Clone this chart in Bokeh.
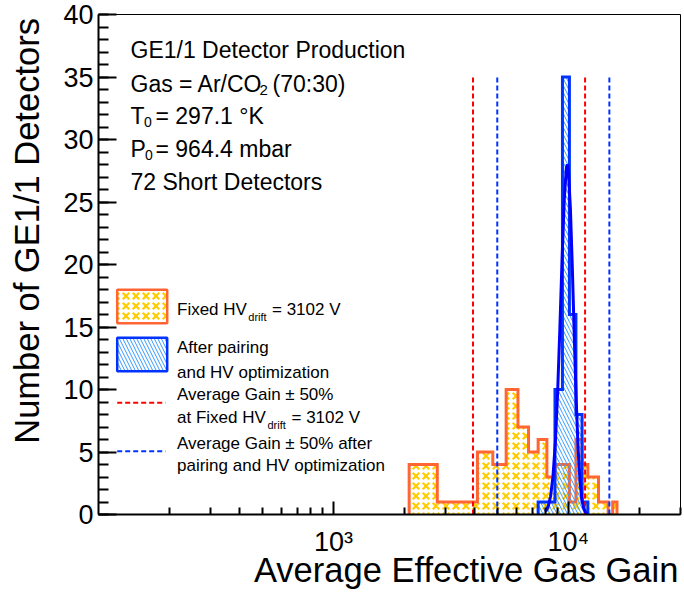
import numpy as np
from bokeh.plotting import figure
from bokeh.models import FixedTicker, Label, Range1d, CustomJSTickFormatter
from bokeh.embed import file_html
from bokeh.resources import INLINE

# ---------------- data ----------------
bin_low, bin_high, n_bins = 100, 20100, 30
fixed_counts = [0, 0, 0, 4, 1, 1, 5, 4, 10, 7, 5, 6,
                3, 4, 4, 1, 6, 4, 3, 3, 1, 1, 0, 1,
                0, 0, 0, 0, 0, 0]
opt_counts = [0, 0, 0, 0, 0, 0, 0, 0, 0, 0, 0, 1,
              1, 10, 35, 16, 8, 1, 0, 0, 0, 0, 0, 0,
              0, 0, 0, 0, 0, 0]
fit_gain = [8000, 8200, 8400, 8600, 8800, 9000, 9200, 9400, 9600, 9800, 9900,
            10000, 10200, 10400, 10600, 10800, 11000, 11200, 11400, 11600, 11800, 12000]
fit_count = [0.24, 0.62, 1.46, 3.07, 5.79, 9.82, 14.96, 20.47, 25.14, 27.74, 28.0,
             27.49, 24.46, 19.55, 14.03, 9.05, 5.24, 2.72, 1.27, 0.53, 0.20, 0.07]
avg_gain_fixed = 7850
avg_gain_opt = 9960
band_fraction = 0.5
band_top = 35

y_ticks = [0, 5, 10, 15, 20, 25, 30, 35, 40]
y_minor = list(range(0, 41))
x_ticks = [1000, 10000]
x_tick_labels = ["10\u00b3", "10\u2074"]
x_minor = [200, 300, 400, 500, 600, 700, 800, 900,
           2000, 3000, 4000, 5000, 6000, 7000, 8000, 9000, 20000, 30000]

x_title = "Average Effective Gas Gain"
y_title = "Number of GE1/1 Detectors"
text_lines = ["GE1/1 Detector Production", "Gas = Ar/CO", "T", "P", "72 Short Detectors"]

# ---------------- styles ----------------
FONT = "Liberation Sans"
ORANGE = "#ff6633"
STAR = "#ffcc00"
BLUE_LINE = "#0033ff"
BLUE_HATCH = "#3399ff"
RED = "#ff0000"
CURVE = "#0000ff"
NBSP = "\u00a0"
X_TITLE_PAD = 16     # non-breaking spaces that push the centred title to the right end
Y_TITLE_PAD = 7      # ... and the vertical title towards the top

W, H = 684, 592
FL, FR, FT, FB = 98, 680, 14, 514          # frame edges in page pixels
LX0, LX1 = 2.0, float(np.log10(30000))


def gx(px):
    return 10 ** (LX0 + (px - FL) / (FR - FL) * (LX1 - LX0))


def gy(py):
    return 40.0 * (FB - py) / (FB - FT)


p = figure(width=W, height=H, x_axis_type="log",
           x_range=Range1d(100, 30000), y_range=Range1d(0, 40),
           output_backend="svg", toolbar_location=None,
           min_border_left=FL, min_border_right=W - FR,
           min_border_top=FT, min_border_bottom=H - FB)
p.grid.visible = False
p.outline_line_color = "black"
p.outline_line_width = 1
p.background_fill_color = "white"
p.border_fill_color = "white"

# axes
p.yaxis.ticker = FixedTicker(ticks=y_ticks, minor_ticks=y_minor)
p.xaxis.ticker = FixedTicker(ticks=x_ticks, minor_ticks=x_minor)
for ax in (p.xaxis, p.yaxis):
    ax.axis_line_width = 2
    ax.axis_line_color = "black"
    ax.major_tick_line_width = 2
    ax.minor_tick_line_width = 2
    ax.major_tick_out = 0
    ax.minor_tick_out = 0
    ax.major_label_text_font = FONT
    ax.major_label_text_font_size = "27px"
    ax.major_label_text_color = "black"
    ax.axis_label_text_font = FONT
    ax.axis_label_text_font_size = "34.5px"
    ax.axis_label_text_font_style = "normal"
    ax.axis_label_text_color = "black"
p.yaxis.major_tick_in = 18
p.yaxis.minor_tick_in = 10
p.xaxis.major_tick_in = 13
p.xaxis.minor_tick_in = 7
p.yaxis.major_label_standoff = 5
p.xaxis.major_label_standoff = 12
p.xaxis.formatter = CustomJSTickFormatter(code="return ''")
p.xaxis.major_label_overrides = dict(zip(x_ticks, x_tick_labels))
p.xaxis.axis_label = NBSP * X_TITLE_PAD + x_title
p.yaxis.axis_label = NBSP * Y_TITLE_PAD + y_title
p.xaxis.axis_label_standoff = -9
p.yaxis.axis_label_standoff = 14

edges = np.linspace(bin_low, bin_high, n_bins + 1)


def outline(counts):
    c = np.asarray(counts, float)
    nz = np.nonzero(c)[0]
    i0, i1 = nz[0], nz[-1] + 1
    xs = np.repeat(edges[i0:i1 + 1], 2)
    ys = np.concatenate([[0.0], np.repeat(c[i0:i1], 2), [0.0]])
    return xs, ys


STAR_PATTERNS = ("left_diagonal_dash", "right_diagonal_dash")

# fixed-HV histogram (star pattern)
fc = np.asarray(fixed_counts, float)
m = fc > 0
for pat in STAR_PATTERNS:
    p.quad(left=edges[:-1][m], right=edges[1:][m], bottom=0, top=fc[m],
           fill_color=None, line_color=None, hatch_pattern=pat,
           hatch_color=STAR, hatch_scale=10, hatch_weight=2.2)
xs, ys = outline(fixed_counts)
p.line(xs, ys, line_color=ORANGE, line_width=3, line_join="miter")

# optimized histogram (hatched)
oc = np.asarray(opt_counts, float)
m2 = oc > 0
p.quad(left=edges[:-1][m2], right=edges[1:][m2], bottom=0, top=oc[m2],
       fill_color=None, line_color=None, hatch_pattern="left_diagonal_line",
       hatch_color=BLUE_HATCH, hatch_scale=7, hatch_weight=1)
xs2, ys2 = outline(opt_counts)
p.line(xs2, ys2, line_color=BLUE_LINE, line_width=3, line_join="miter")

# +-50% bands
for avg, col in ((avg_gain_fixed, RED), (avg_gain_opt, BLUE_LINE)):
    xb = [avg * (1 - band_fraction), avg * (1 + band_fraction)]
    p.segment(x0=xb, y0=[0, 0], x1=xb, y1=[band_top, band_top],
              line_color=col, line_width=2, line_dash="5 3")

# gaussian fit
p.line(fit_gain, fit_count, line_color=CURVE, line_width=3)


def lab(px, py, text, size, align="left", angle=0.0, color="black"):
    p.add_layout(Label(x=gx(px), y=gy(py), text=text, text_font=FONT,
                       text_font_size=f"{size}px", text_align=align,
                       text_baseline="alphabetic", angle=angle, text_color=color))


# info text block
lab(130, 49, text_lines[0], 23)
lab(130, 83.3, text_lines[1], 23)
lab(259, 89.5, "2", 15)
lab(272, 83.3, "(70:30)", 23)
lab(130, 115, text_lines[2], 23)
lab(143.5, 121, "0", 14)
lab(155, 115, "= 297.1 \u00b0K", 23)
lab(130, 148.3, text_lines[3], 23)
lab(144.5, 154.3, "0", 14)
lab(155, 148.3, "= 964.4 mbar", 23)
lab(130, 181.7, text_lines[4], 23)

# legend
LS = 17
bx0, bx1 = gx(116.7), gx(166.7)
for pat in STAR_PATTERNS:
    p.quad(left=[bx0], right=[bx1], bottom=[gy(322.7)], top=[gy(289.3)],
           fill_color=None, line_color=None, hatch_pattern=pat,
           hatch_color=STAR, hatch_scale=10, hatch_weight=2.2)
p.quad(left=[bx0], right=[bx1], bottom=[gy(322.7)], top=[gy(289.3)],
       fill_color=None, line_color=ORANGE, line_width=2.5)
p.quad(left=[bx0], right=[bx1], bottom=[gy(370.7)], top=[gy(337.3)],
       fill_color=None, line_color=BLUE_LINE, line_width=2.5,
       hatch_pattern="left_diagonal_line", hatch_color=BLUE_HATCH,
       hatch_scale=7, hatch_weight=1)
p.segment(x0=[bx0], y0=[gy(402.3)], x1=[gx(165)], y1=[gy(402.3)],
          line_color=RED, line_width=2, line_dash="5 3")
p.segment(x0=[bx0], y0=[gy(450.7)], x1=[gx(165)], y1=[gy(450.7)],
          line_color=BLUE_LINE, line_width=2, line_dash="5 3")

lab(176.5, 309, "Fixed HV", LS)
lab(247.8, 316, "drift", 11)
lab(271.5, 309, "= 3102 V", LS)
lab(176.5, 346.7, "After pairing", LS)
lab(176.5, 371.7, "and HV optimization", LS)
lab(176.5, 394, "Average Gain \u00b1 50%", LS)
lab(176.5, 417, "at Fixed HV", LS)
lab(267, 424, "drift", 11)
lab(291, 417, "= 3102 V", LS)
lab(176.5, 443, "Average Gain \u00b1 50% after", LS)
lab(176.5, 465, "pairing and HV optimization", LS)

open("out.html", "w").write(file_html(p, INLINE))
